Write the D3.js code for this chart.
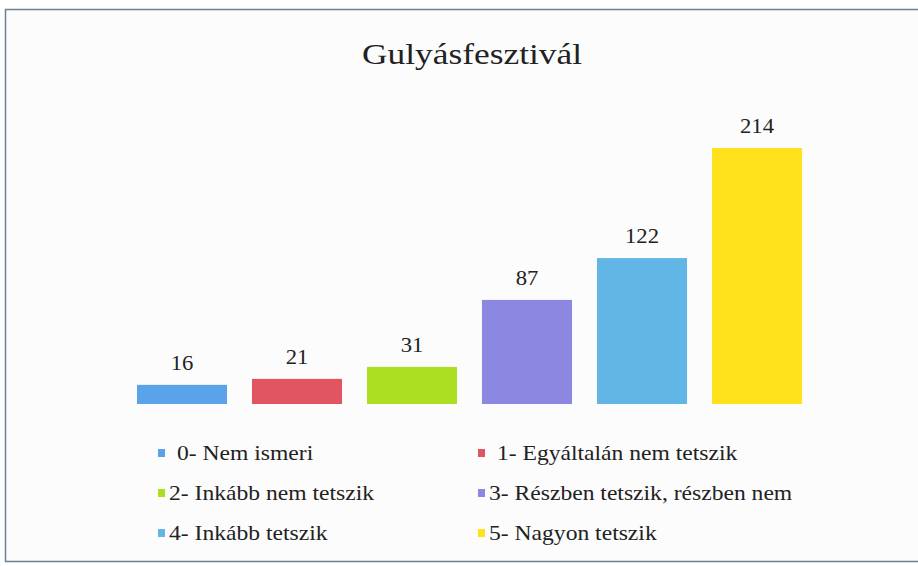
<!DOCTYPE html>
<html>
<head>
<meta charset="utf-8">
<script src="https://cdn.jsdelivr.net/npm/d3@7"></script>
<style>
  body { margin: 0; background: #fff; }
  text { font-family: "Liberation Serif", "Times New Roman", serif; }
</style>
</head>
<body>
<script>
/* Gulyásfesztivál - column chart */
var categories = ["0- Nem ismeri", "1- Egyáltalán nem tetszik", "2- Inkább nem tetszik",
                  "3- Részben tetszik, részben nem", "4- Inkább tetszik", "5- Nagyon tetszik"];
var values = [16, 21, 31, 87, 122, 214];
var colors = ["#5aa2ea", "#e0555f", "#acde22", "#8c87e0", "#62b6e6", "#ffe11c"];

var width = 918, height = 566;
var stretch = 1.18;   // scanned text is a bit wider than Times

var svg = d3.select("body")
            .append("svg")
            .attr("width", width)
            .attr("height", height);

// frame
svg.append("rect")
   .attr("x", 5.5).attr("y", 9.5)
   .attr("width", 930).attr("height", 552)
   .attr("fill", "#fcfcfc")
   .attr("stroke", "#6c7f94")
   .attr("stroke-width", 1.5);

svg.append("text")
   .attr("transform", "translate(472,64) scale(" + stretch + ",1)")
   .attr("text-anchor", "middle")
   .attr("font-size", 30)
   .attr("fill", "#222")
   .text("Gulyásfesztivál");

var x = d3.scaleBand()
          .domain(categories)
          .range([124.5, 814.5])
          .paddingInner(0.217)
          .paddingOuter(0.1085);

var y = d3.scaleLinear()
          .domain([0, 214])
          .range([404, 148]);

var bars = svg.append("g");
bars.selectAll("rect")
    .data(values)
    .enter()
    .append("rect")
    .attr("x", function(d, i) { return x(categories[i]); })
    .attr("y", function(d) { return y(d); })
    .attr("width", x.bandwidth())
    .attr("height", function(d) { return y(0) - y(d); })
    .attr("fill", function(d, i) { return colors[i]; });

bars.selectAll("text")
    .data(values)
    .enter()
    .append("text")
    .attr("transform", function(d, i) {
        return "translate(" + (x(categories[i]) + x.bandwidth() / 2) + "," + (y(d) - 15) + ") scale(1.08,1)";
    })
    .attr("text-anchor", "middle")
    .attr("font-size", 21)
    .attr("fill", "#222")
    .text(function(d) { return d; });

// legend, two columns
var legend = svg.append("g");
var item = legend.selectAll("g")
    .data(categories)
    .enter()
    .append("g")
    .attr("transform", function(d, i) {
        var col = i % 2, row = Math.floor(i / 2);
        return "translate(" + (col == 0 ? 158 : 478) + "," + (453 + row * 40) + ")";
    });

item.append("rect")
    .attr("x", 0).attr("y", -4)
    .attr("width", 7).attr("height", 8)
    .attr("fill", function(d, i) { return colors[i]; });

item.append("text")
    .attr("transform", function(d, i) {
        return "translate(" + ((i == 0 || i == 1) ? 19 : 11) + ",7) scale(" + stretch + ",1)";
    })
    .attr("font-size", 20)
    .attr("fill", "#222")
    .text(function(d) { return d; });
</script>
</body>
</html>
